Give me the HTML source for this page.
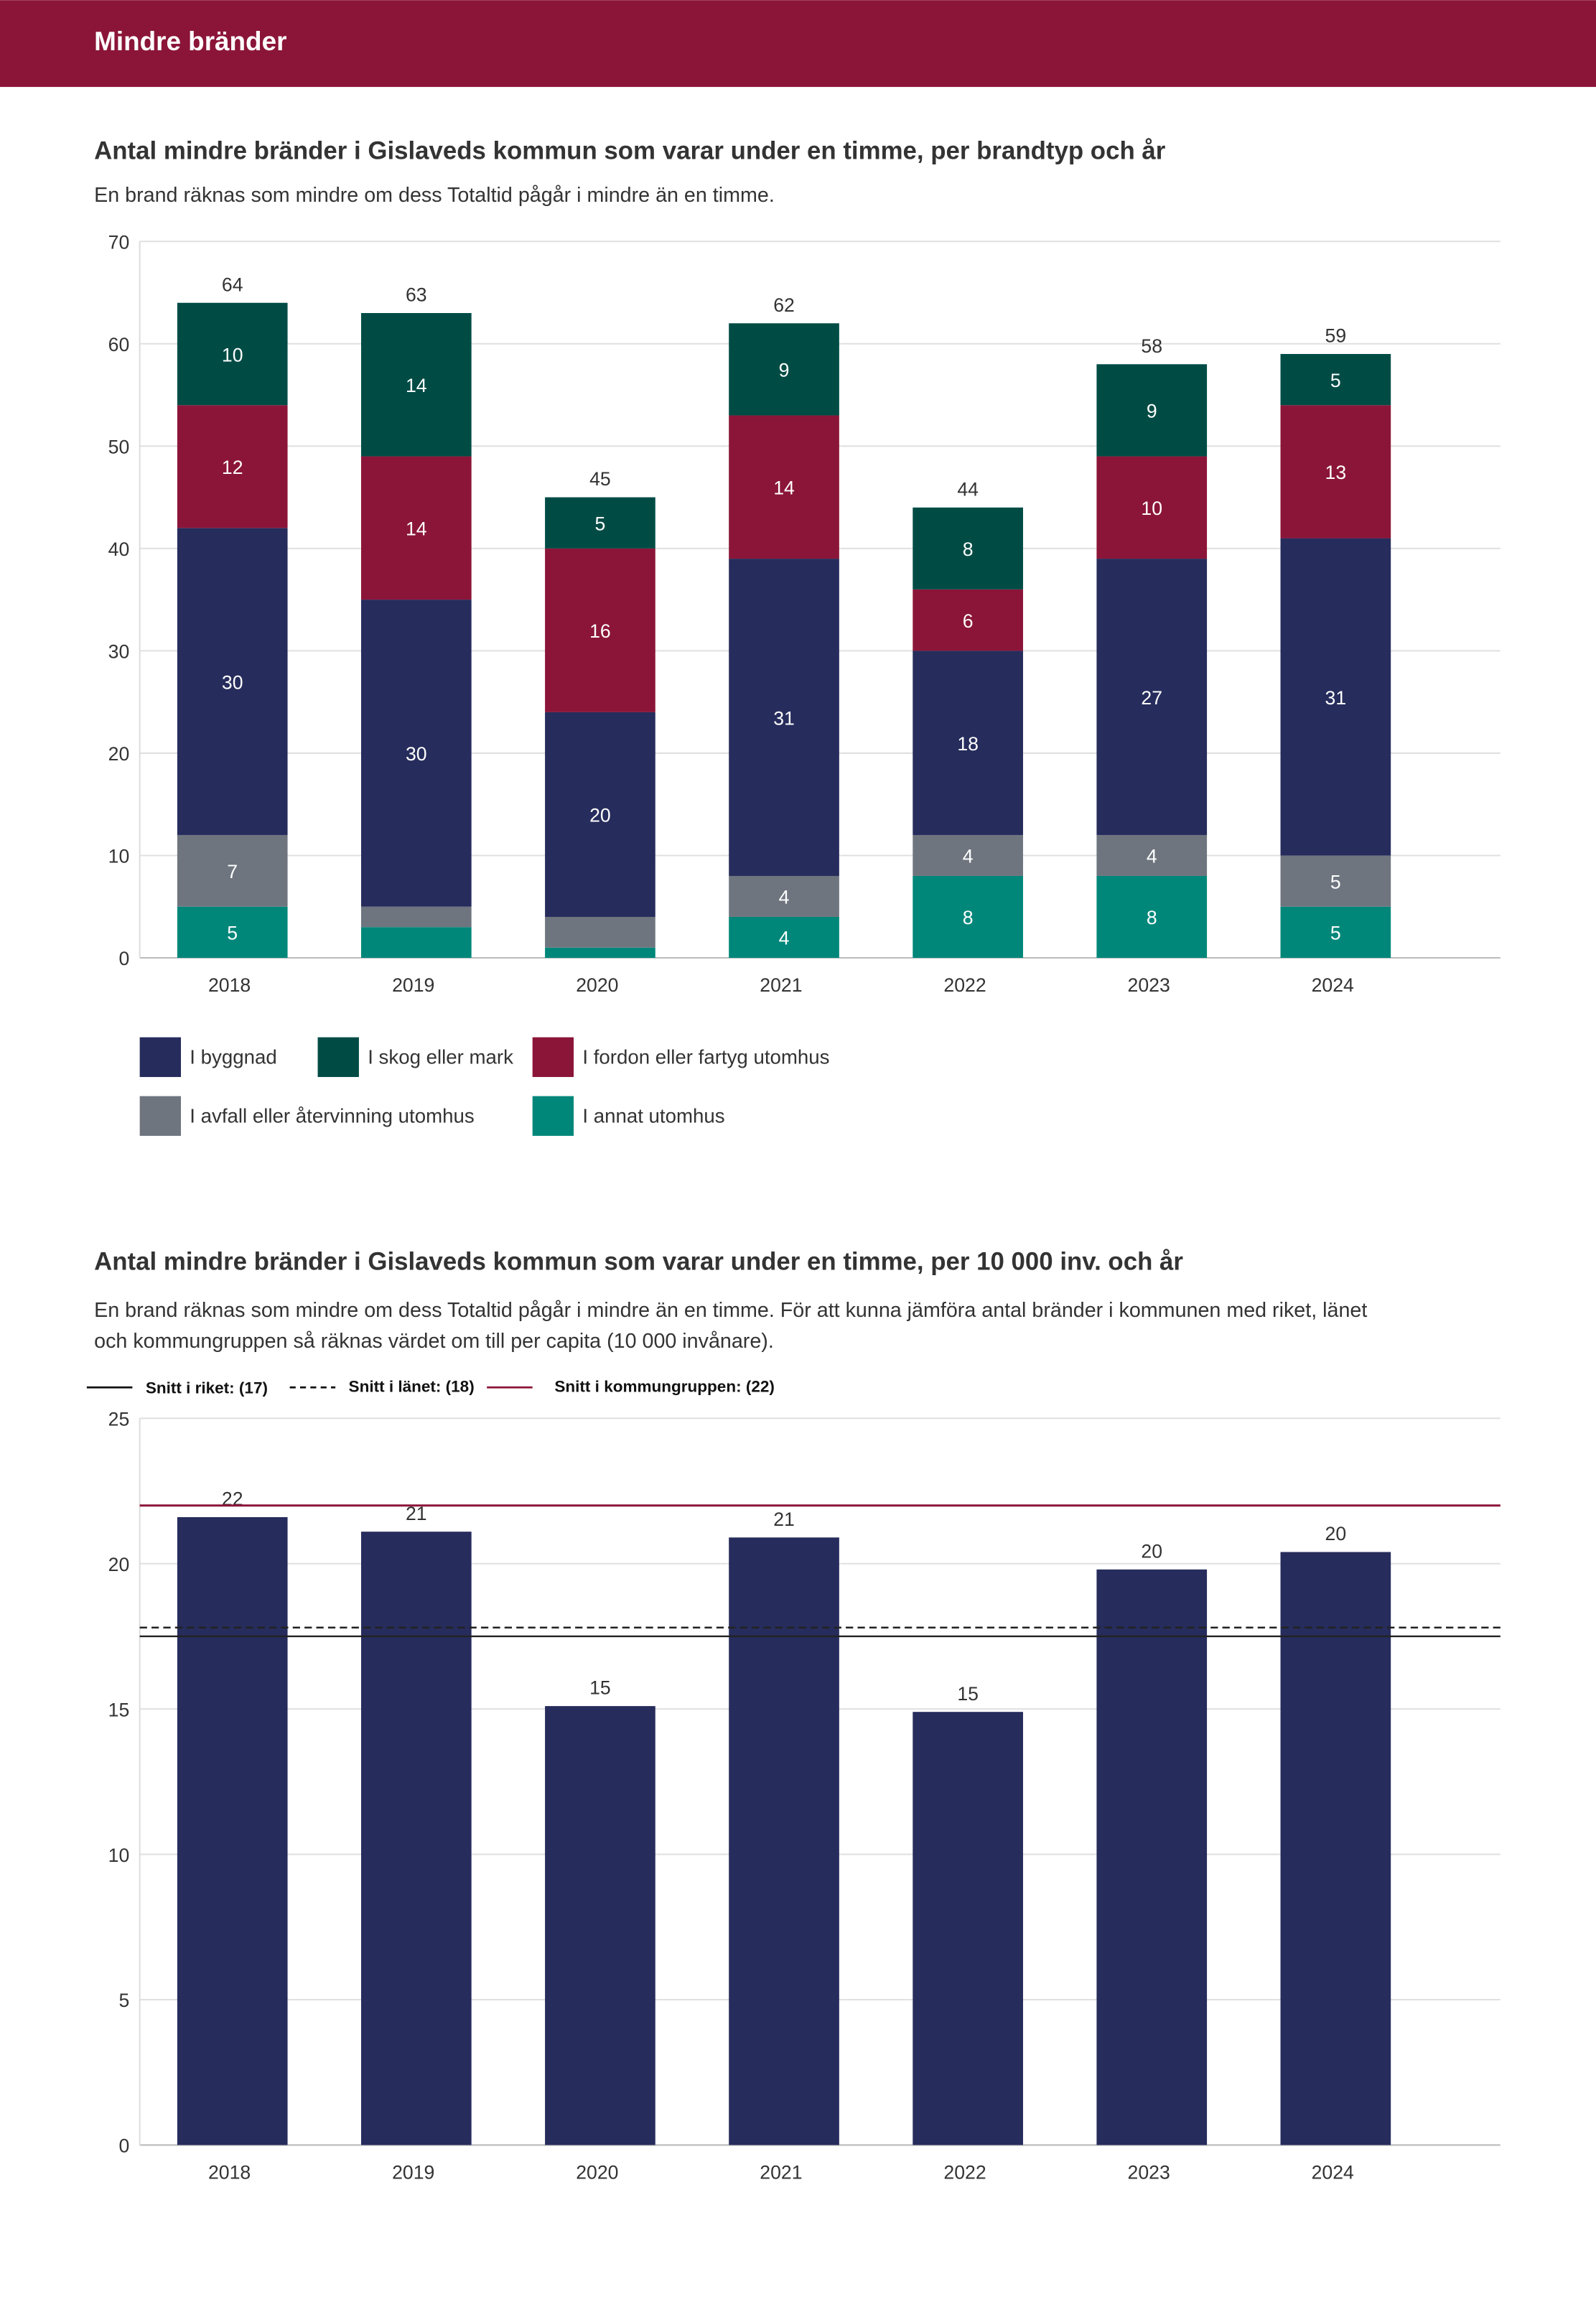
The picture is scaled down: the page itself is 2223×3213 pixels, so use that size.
<!DOCTYPE html>
<html><head><meta charset="utf-8"><style>
html,body{margin:0;padding:0;background:#fff}
svg{display:block}
text{font-family:"Liberation Sans",sans-serif}
</style></head><body>
<svg id="s" width="2223" height="3213" viewBox="0 0 1085 1568" xmlns="http://www.w3.org/2000/svg">
<rect x="0" y="0" width="1085" height="59" fill="#8b1538"/>
<text x="64" y="34" fill="#fff" font-size="18" font-weight="bold">Mindre bränder</text>
<text x="64" y="108" fill="#333" font-size="17" font-weight="bold">Antal mindre bränder i Gislaveds kommun som varar under en timme, per brandtyp och år</text>
<text x="64" y="137" fill="#333" font-size="14">En brand räknas som mindre om dess Totaltid pågår i mindre än en timme.</text>
<g id="c1"></g>
<g>
<rect x="95" y="705" width="28" height="27" fill="#262c5c"/>
<text x="129" y="723" font-size="13.5" fill="#333">I byggnad</text>
<rect x="216" y="705" width="28" height="27" fill="#004c45"/>
<text x="250" y="723" font-size="13.5" fill="#333">I skog eller mark</text>
<rect x="362" y="705" width="28" height="27" fill="#8b1538"/>
<text x="396" y="723" font-size="13.5" fill="#333">I fordon eller fartyg utomhus</text>
<rect x="95" y="745" width="28" height="27" fill="#6e757f"/>
<text x="129" y="763" font-size="13.5" fill="#333">I avfall eller återvinning utomhus</text>
<rect x="362" y="745" width="28" height="27" fill="#00877a"/>
<text x="396" y="763" font-size="13.5" fill="#333">I annat utomhus</text>
</g>
<text x="64" y="863" fill="#333" font-size="17" font-weight="bold">Antal mindre bränder i Gislaveds kommun som varar under en timme, per 10 000 inv. och år</text>
<text x="64" y="895" fill="#333" font-size="14">En brand räknas som mindre om dess Totaltid pågår i mindre än en timme. För att kunna jämföra antal bränder i kommunen med riket, länet</text>
<text x="64" y="916" fill="#333" font-size="14">och kommungruppen så räknas värdet om till per capita (10 000 invånare).</text>
<g>
<line x1="59" y1="943" x2="90" y2="943" stroke="#111" stroke-width="1.3"/>
<text x="99" y="947" font-size="11" font-weight="bold" fill="#111">Snitt i riket: (17)</text>
<line x1="197" y1="943" x2="228" y2="943" stroke="#111" stroke-width="1.3" stroke-dasharray="4,3"/>
<text x="237" y="946" font-size="11" font-weight="bold" fill="#111">Snitt i länet: (18)</text>
<line x1="331" y1="943" x2="362" y2="943" stroke="#8b1538" stroke-width="1.3"/>
<text x="377" y="946" font-size="11" font-weight="bold" fill="#111">Snitt i kommungruppen: (22)</text>
</g>
<g id="c2"></g>
</svg>
<script>
const years=["2018","2019","2020","2021","2022","2023","2024"];
const annat=[5,3,1,4,8,8,5];
const avfall=[7,2,3,4,4,4,5];
const byggnad=[30,30,20,31,18,27,31];
const fordon=[12,14,16,14,6,10,13];
const skog=[10,14,5,9,8,9,5];
const ticks1=[0,10,20,30,40,50,60,70];
const perCapita=[21.6,21.1,15.1,20.9,14.9,19.8,20.4];
const ticks2=[0,5,10,15,20,25];
const riket=17.5, lanet=17.8, kommungrupp=22;

const NS="http://www.w3.org/2000/svg";
function mk(p,tag,a,txt){const e=document.createElementNS(NS,tag);for(const k in a)e.setAttribute(k,a[k]);if(txt!==undefined)e.textContent=txt;p.appendChild(e);return e;}
const x=i=>158+125*i, bw=75, L=95, R=1020;

// chart 1
const c1=document.getElementById('c1');
const y1=v=>651-v*(487/70);
ticks1.forEach(t=>{
 const l=mk(c1,'line',{x1:L,x2:R,y1:y1(t),y2:y1(t),stroke:t===0?'#bbb':'#e0e0e0','stroke-width':1});
 
 
 const tx=mk(c1,'text',{x:88,y:y1(t)+5,'text-anchor':'end','font-size':13,fill:'#333'},t);
 
 
});
mk(c1,'line',{x1:L,x2:L,y1:y1(70),y2:y1(0),stroke:'#ddd'});
const series=[[annat,'#00877a','annat'],[avfall,'#6e757f','avfall'],[byggnad,'#262c5c','byggnad'],[fordon,'#8b1538','fordon'],[skog,'#004c45','skog']];
years.forEach((yr,i)=>{
 let cum=0;
 series.forEach(([arr,col,nm])=>{
  const v=arr[i];
  const r=mk(c1,'rect',{x:x(i)-bw/2,y:y1(cum+v),width:bw,height:y1(cum)-y1(cum+v),fill:col});
  
  
  if(v>=4){const t=mk(c1,'text',{x:x(i),y:y1(cum+v/2)+5,'text-anchor':'middle','font-size':13,fill:'#fff'},v);
   
   }
  cum+=v;
 });
 const tt=mk(c1,'text',{x:x(i),y:y1(cum)-8,'text-anchor':'middle','font-size':13,fill:'#333'},cum);
 
 
 const xl=mk(c1,'text',{x:x(i)-2,y:674,'text-anchor':'middle','font-size':13,fill:'#333'},yr);
 
 
});

// chart 2
const c2=document.getElementById('c2');
const y2=v=>1458-v*(494/25);
ticks2.forEach(t=>{
 const l=mk(c2,'line',{x1:L,x2:R,y1:y2(t),y2:y2(t),stroke:t===0?'#bbb':'#e0e0e0','stroke-width':1});
 
 
 const tx=mk(c2,'text',{x:88,y:y2(t)+5,'text-anchor':'end','font-size':13,fill:'#333'},t);
 
 
});
mk(c2,'line',{x1:L,x2:L,y1:y2(25),y2:y2(0),stroke:'#ddd'});
years.forEach((yr,i)=>{
 const v=perCapita[i];
 const r=mk(c2,'rect',{x:x(i)-bw/2,y:y2(v),width:bw,height:y2(0)-y2(v),fill:'#262c5c'});
 
 
 const t=mk(c2,'text',{x:x(i),y:y2(v)-8,'text-anchor':'middle','font-size':13,fill:'#333'},Math.round(v));
 
 
 const xl=mk(c2,'text',{x:x(i)-2,y:1481,'text-anchor':'middle','font-size':13,fill:'#333'},yr);
 
 
});
const lr=mk(c2,'line',{x1:L,x2:R,y1:y2(riket),y2:y2(riket),stroke:'#222','stroke-width':1.2});


const ll=mk(c2,'line',{x1:L,x2:R,y1:y2(lanet),y2:y2(lanet),stroke:'#222','stroke-width':1.2,'stroke-dasharray':'5,3'});


const lk=mk(c2,'line',{x1:L,x2:R,y1:y2(kommungrupp),y2:y2(kommungrupp),stroke:'#8b1538','stroke-width':1.5});


</script>
</body></html>
